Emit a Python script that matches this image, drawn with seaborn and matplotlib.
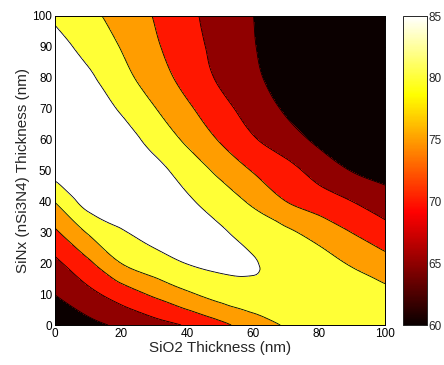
import numpy as np
import matplotlib
matplotlib.use("Agg")
import matplotlib.pyplot as plt
import matplotlib.tri as mtri
import seaborn as sns

# ---- data (value at grid nodes, x = SiO2, y = SiNx) ----
sio2_nm = [0, 10, 20, 30, 40, 50, 60, 70, 80, 90, 100]
sinx_nm = [0, 10, 20, 30, 40, 50, 60, 70, 80, 90, 100]

z_y000 = [61.5, 63.7, 65.9, 68.2, 70.5, 73.8, 77.3, 80.4, 82.3, 83.0, 83.0]
z_y010 = [65.1, 68.6, 72.3, 75.8, 79.2, 81.9, 83.5, 84.0, 83.6, 82.6, 81.2]
z_y020 = [68.9, 74.0, 80.0, 82.9, 85.1, 85.8, 85.2, 83.6, 81.8, 79.5, 76.9]
z_y030 = [74.2, 80.4, 84.5, 86.4, 86.8, 85.5, 83.3, 80.9, 78.2, 74.9, 71.8]
z_y040 = [80.2, 86.8, 87.6, 87.5, 85.6, 82.8, 79.1, 75.0, 72.4, 70.0, 67.5]
z_y050 = [86.6, 88.3, 88.0, 86.4, 83.0, 78.8, 74.7, 71.8, 68.0, 64.8, 62.9]
z_y060 = [87.6, 88.0, 87.0, 83.4, 79.1, 74.6, 70.5, 67.2, 64.0, 61.0, 59.5]
z_y070 = [87.9, 87.3, 84.5, 80.3, 75.9, 71.7, 67.9, 64.4, 61.6, 59.0, 58.0]
z_y080 = [87.6, 85.8, 81.7, 77.5, 73.3, 69.3, 66.0, 62.8, 60.4, 58.0, 57.0]
z_y090 = [86.6, 83.5, 79.8, 75.8, 72.0, 68.5, 65.3, 62.3, 59.9, 57.8, 56.6]
z_y100 = [84.3, 81.3, 78.2, 74.8, 71.2, 68.0, 65.05, 62.0, 59.6, 57.6, 56.0]

contour_levels = [65, 70, 75, 80, 85]
cbar_ticks = [60, 65, 70, 75, 80, 85]
x_ticks = [0, 20, 40, 60, 80, 100]
y_ticks = [0, 10, 20, 30, 40, 50, 60, 70, 80, 90, 100]

# ---- style ----
sns.set_theme(style="ticks")
plt.rcParams["font.family"] = ["Liberation Sans", "DejaVu Sans"]
plt.rcParams["xtick.direction"] = "in"
plt.rcParams["ytick.direction"] = "in"

Z = np.array([z_y000, z_y010, z_y020, z_y030, z_y040, z_y050,
              z_y060, z_y070, z_y080, z_y090, z_y100])
X, Y = np.meshgrid(np.array(sio2_nm, float), np.array(sinx_nm, float))
nx, ny = len(sio2_nm), len(sinx_nm)

# grid triangulation (cells split along the anti-diagonal), smoothed by matplotlib
triangles = []
for j in range(ny - 1):
    for i in range(nx - 1):
        a = j * nx + i
        b = a + 1
        c = a + nx
        d = c + 1
        triangles.append([a, b, c])
        triangles.append([b, d, c])
tri = mtri.Triangulation(X.ravel(), Y.ravel(), triangles=np.array(triangles))
interp = mtri.CubicTriInterpolator(tri, Z.ravel(), kind="geom")
refiner = mtri.UniformTriRefiner(tri)
tri_f, z_f = refiner.refine_field(Z.ravel(), triinterpolator=interp, subdiv=4)

fig = plt.figure(figsize=(4.44, 3.65), dpi=100)
ax = fig.add_axes([55 / 444, 40 / 365, 330 / 444, 309 / 365])
cax = fig.add_axes([403 / 444, 40 / 365, 24 / 444, 309 / 365])

cmap = plt.get_cmap("hot")
vmin, vmax = cbar_ticks[0], cbar_ticks[-1]
fill_levels = [min(z_f.min(), Z.min()) - 1] + contour_levels + [max(z_f.max(), Z.max()) + 1]
fill_colors = [cmap((lv - vmin) / (vmax - vmin)) for lv in [vmin] + contour_levels]

ax.tricontourf(tri_f, z_f, levels=fill_levels, colors=fill_colors)
ax.tricontour(tri_f, z_f, levels=contour_levels, colors="black", linewidths=0.6)

ax.set_xlim(0, 100)
ax.set_ylim(0, 100)
ax.set_xticks(x_ticks)
ax.set_yticks(y_ticks)
ax.tick_params(axis="both", labelsize=8.5, length=3.5, width=0.6,
               top=True, right=True, pad=2, colors="black")
for sp in ax.spines.values():
    sp.set_visible(True)
    sp.set_linewidth(0.7)
    sp.set_color("black")
ax.set_xlabel("SiO2 Thickness (nm)", fontsize=11, labelpad=1)
ax.set_ylabel("SiNx (nSi3N4) Thickness (nm)", fontsize=11, labelpad=2)

sm = matplotlib.cm.ScalarMappable(norm=matplotlib.colors.Normalize(vmin, vmax), cmap=cmap)
cb = fig.colorbar(sm, cax=cax, ticks=cbar_ticks)
cb.outline.set_linewidth(0.7)
cax.tick_params(labelsize=8.5, direction="in", length=3, width=0.6,
                left=True, right=True, pad=1)

fig.savefig("out.png", dpi=100)
